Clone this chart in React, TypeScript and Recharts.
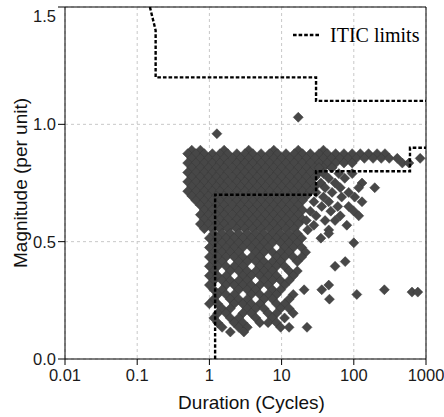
import { ScatterChart, Scatter, XAxis, YAxis, CartesianGrid, ReferenceLine, Legend, Label } from 'recharts';

const durationTicks = [0.01, 0.1, 1, 10, 100, 1000];
const magnitudeTicks = [0, 0.5, 1.0, 1.5];

// ITIC curve corners: [duration (cycles), magnitude (pu)]
const iticUpper = [[0.15, 1.5], [0.18, 1.4], [0.18, 1.2], [30, 1.2], [30, 1.1], [1000, 1.1]];
const iticLower = [[1.2, 0], [1.2, 0.7], [30, 0.7], [30, 0.8], [600, 0.8], [600, 0.9], [1000, 0.9]];

// sag events, one row per magnitude level: [magnitude, durations]
const bandRows: [number, number[]][] = [
  [0.89, [0.57, 0.75, 1.6, 3.5, 7.8, 17, 38]],
  [0.875, [0.5, 0.65, 0.85, 1.1, 1.4, 1.8, 2.4, 3.1, 4, 5.2, 6.8, 8.8, 11.5, 15, 19.5, 25, 33, 43, 56, 73, 95, 123, 160, 210, 270]],
  [0.855, [0.57, 0.75, 0.97, 1.25, 1.6, 2.1, 2.7, 3.5, 4.6, 6, 7.8, 10, 13, 17, 22, 29, 38, 49, 64, 83, 108, 140, 185, 240, 310, 400, 830]],
  [0.835, [0.5, 0.65, 0.85, 1.1, 1.4, 1.8, 2.4, 3.1, 4, 5.2, 6.8, 8.8, 11.5, 15, 19.5, 25, 33, 43, 56, 73, 95, 470, 580]],
  [0.815, [0.57, 0.75, 0.97, 1.25, 1.6, 2.1, 2.7, 3.5, 4.6, 6, 7.8, 10, 13, 17, 22, 29, 38, 49]],
  [0.795, [0.5, 0.65, 0.85, 1.1, 1.4, 1.8, 2.4, 3.1, 4, 5.2, 6.8, 8.8, 11.5, 15, 19.5, 25, 33]],
  [0.775, [0.57, 0.75, 0.97, 1.25, 1.6, 2.1, 2.7, 3.5, 4.6, 6, 7.8, 10, 13, 17, 22, 29]],
  [0.755, [0.5, 0.65, 0.85, 1.1, 1.4, 1.8, 2.4, 3.1, 4, 5.2, 6.8, 8.8, 11.5, 15, 19.5, 25]],
  [0.735, [0.57, 0.75, 0.97, 1.25, 1.6, 2.1, 2.7, 3.5, 4.6, 6, 7.8, 10, 13, 17, 22, 29]],
  [0.715, [0.5, 0.65, 0.85, 1.1, 1.4, 1.8, 2.4, 3.1, 4, 5.2, 6.8, 8.8, 11.5, 15, 19.5, 25]],
  [0.695, [0.57, 0.75, 0.97, 1.25, 1.6, 2.1, 2.7, 3.5, 4.6, 6, 7.8, 10, 13, 17, 22]],
  [0.675, [0.65, 0.85, 1.1, 1.4, 1.8, 2.4, 3.1, 4, 5.2, 6.8, 8.8, 11.5, 15, 19.5]],
  [0.655, [0.75, 0.97, 1.25, 1.6, 2.1, 2.7, 3.5, 4.6, 6, 7.8, 10, 13, 17]],
  [0.635, [0.85, 1.1, 1.4, 1.8, 2.4, 3.1, 4, 5.2, 6.8, 8.8, 11.5, 15, 19.5]],
  [0.615, [0.75, 0.97, 1.25, 1.6, 2.1, 2.7, 3.5, 4.6, 6, 7.8, 10, 13, 17]],
  [0.595, [0.85, 1.1, 1.4, 1.8, 2.4, 3.1, 4, 5.2, 6.8, 8.8, 11.5, 15, 19.5]],
  [0.575, [0.75, 0.97, 1.25, 1.6, 2.1, 2.7, 3.5, 4.6, 6, 7.8, 10, 13, 17]],
  [0.555, [0.85, 1.1, 1.4, 1.8, 2.4, 3.1, 4, 5.2, 6.8, 8.8, 11.5, 15]],
];

// longer sags sitting right of the 30-cycle step
const longRows: [number, number[]][] = [
  [0.815, [33, 50]],
  [0.79, [38, 62, 95]],
  [0.77, [45, 75]],
  [0.75, [35, 55, 130]],
  [0.73, [40, 65, 117, 195]],
  [0.71, [30, 50, 85]],
  [0.69, [38, 68, 103]],
  [0.67, [28, 45, 130]],
  [0.65, [36, 60, 85]],
  [0.63, [25, 48, 100]],
  [0.61, [30, 65, 117]],
  [0.59, [22, 40, 55]],
  [0.57, [28, 80]],
  [0.55, [23, 45]],
];

const lowRows: [number, number[]][] = [
  [0.535, [1.15, 1.5, 1.95, 2.55, 3.35, 4.4, 5.7, 7.5, 9.7, 12.7, 16.5, 45]],
  [0.515, [1.0, 1.3, 1.7, 2.2, 2.9, 3.8, 5.0, 6.5, 8.5, 11, 14.5, 19, 35]],
  [0.495, [1.15, 1.5, 1.95, 2.55, 3.35, 4.4, 5.7, 7.5, 9.7, 12.7, 16.5, 100]],
  [0.475, [1.0, 1.3, 1.7, 2.2, 2.9, 3.8, 5.0, 6.5, 11, 14.5, 19]],
  [0.455, [1.15, 1.5, 1.95, 2.55, 4.4, 5.7, 7.5, 9.7, 12.7, 21.5]],
  [0.435, [1.0, 1.3, 1.7, 2.2, 2.9, 3.8, 5.0, 8.5, 11, 14.5, 19]],
  [0.415, [1.15, 1.5, 2.55, 3.35, 4.4, 5.7, 7.5, 9.7, 16.5, 76]],
  [0.395, [1.0, 1.3, 1.7, 2.2, 2.9, 5.0, 6.5, 8.5, 11, 55]],
  [0.375, [1.15, 1.95, 2.55, 3.35, 4.4, 5.7, 7.5, 12.7, 16.5]],
  [0.355, [1.0, 1.3, 1.7, 2.9, 3.8, 5.0, 6.5, 8.5, 14.5]],
  [0.335, [1.15, 1.5, 1.95, 2.55, 3.35, 5.7, 7.5, 9.7, 12.7]],
  [0.315, [1.0, 1.7, 2.2, 2.9, 3.8, 5.0, 6.5, 11, 45]],
  [0.295, [1.15, 1.5, 2.55, 3.35, 4.4, 7.5, 9.7, 20.5, 36, 265]],
  [0.285, [640, 770]],
  [0.275, [1.3, 1.7, 2.2, 3.8, 5.0, 6.5, 8.5, 14.5, 110]],
  [0.255, [1.15, 1.95, 2.55, 3.35, 5.7, 7.5, 12.7, 46]],
  [0.235, [1.0, 1.3, 2.2, 2.9, 3.8, 5.0, 8.5, 11]],
  [0.215, [1.5, 1.95, 3.35, 4.4, 5.7, 9.7, 12.7]],
  [0.195, [1.3, 1.7, 2.9, 3.8, 6.5, 8.5, 14.5]],
  [0.175, [1.15, 1.95, 2.55, 4.4, 7.5, 11]],
  [0.155, [1.3, 2.2, 2.9, 5.0, 6.5, 8.5]],
  [0.135, [1.5, 2.55, 3.35, 9.7, 12.7, 22.5]],
  [0.115, [1.95, 3]],
];

const swellEvents = [[1.27, 0.96], [17, 1.03]];

const toXY = (pts: number[][]) => pts.map(([x, y]) => ({ x, y }));
const fromRows = (rows: [number, number[]][]) =>
  rows.flatMap(([mag, durs]) => durs.map((d) => ({ x: d, y: mag })));

const sansFont = '"Liberation Sans", Arial, Helvetica, sans-serif';
const serifFont = '"Liberation Serif", "Times New Roman", serif';

const Diamond = (props: any) => {
  const { cx, cy } = props;
  if (cx == null || cy == null) return <g />;
  const r = 5;
  return (
    <polygon
      points={`${cx},${cy - r} ${cx + r},${cy} ${cx},${cy + r} ${cx - r},${cy}`}
      fill="#474747"
      stroke="#383838"
      strokeWidth={0.5}
    />
  );
};

const MagTick = (props: any) => {
  const { x, y, payload } = props;
  const shift = payload.value === 1.5 ? 7 : 0;
  return (
    <text x={x} y={y + shift} dy="0.355em" textAnchor="end" fill="#1a1a1a" fontSize={16.5} fontFamily={sansFont}>
      {Number(payload.value).toFixed(1)}
    </text>
  );
};

const iticLine = { stroke: '#000', strokeWidth: 2.4, strokeDasharray: '3.6 2' };

export default function App() {
  return (
    <div style={{ position: 'absolute', left: 0, top: 0, background: '#fff' }}>
      <ScatterChart width={444} height={417} margin={{ top: 7, right: 18, bottom: 0, left: 5 }}>
        <CartesianGrid stroke="#c8c8c8" strokeDasharray="3 3" />
        <XAxis
          type="number"
          dataKey="x"
          scale="log"
          domain={[0.01, 1000]}
          ticks={durationTicks}
          allowDataOverflow
          height={58}
          stroke="#000"
          tickSize={6}
          tickMargin={4}
          tick={{ fill: '#1a1a1a', fontSize: 16.5, fontFamily: sansFont }}
        >
          <Label
            value="Duration (Cycles)"
            position="insideBottom"
            offset={8}
            dx={6}
            fill="#111"
            fontSize={19}
            fontFamily={sansFont}
          />
        </XAxis>
        <YAxis
          type="number"
          dataKey="y"
          domain={[0, 1.5]}
          ticks={magnitudeTicks}
          allowDataOverflow
          width={60}
          stroke="#000"
          tickSize={7}
          tickMargin={2}
          tick={<MagTick />}
        >
          <Label
            content={(p: any) => {
              const vb = p.viewBox || { x: 5, y: 7, width: 60, height: 352 };
              const cy = vb.y + vb.height / 2;
              return (
                <text
                  transform={`translate(27,${cy}) rotate(-90)`}
                  textAnchor="middle"
                  fill="#111"
                  fontSize={19}
                  fontFamily={sansFont}
                >
                  Magnitude (per unit)
                </text>
              );
            }}
          />
        </YAxis>
        <ReferenceLine y={1.5} stroke="#000" />
        <ReferenceLine x={1000} stroke="#000" />
        <Scatter data={fromRows(bandRows)} shape={<Diamond />} isAnimationActive={false} />
        <Scatter data={fromRows(longRows)} shape={<Diamond />} isAnimationActive={false} />
        <Scatter data={fromRows(lowRows)} shape={<Diamond />} isAnimationActive={false} />
        <Scatter data={toXY(swellEvents)} shape={<Diamond />} isAnimationActive={false} />
        <Scatter data={toXY(iticUpper)} line={iticLine} shape={() => <g />} isAnimationActive={false} />
        <Scatter data={toXY(iticLower)} line={iticLine} shape={() => <g />} isAnimationActive={false} />
        <Legend
          layout="horizontal"
          verticalAlign="middle"
          align="center"
          wrapperStyle={{ top: 23, left: 293, width: 140, height: 24 }}
          content={() => (
            <div style={{ display: 'flex', alignItems: 'center', height: 24 }}>
              <svg width={28} height={4}>
                <line x1={0} y1={2} x2={28} y2={2} {...iticLine} />
              </svg>
              <span style={{ marginLeft: 9, fontFamily: serifFont, fontSize: 20, lineHeight: '24px', color: '#000' }}>
                ITIC limits
              </span>
            </div>
          )}
        />
      </ScatterChart>
    </div>
  );
}
